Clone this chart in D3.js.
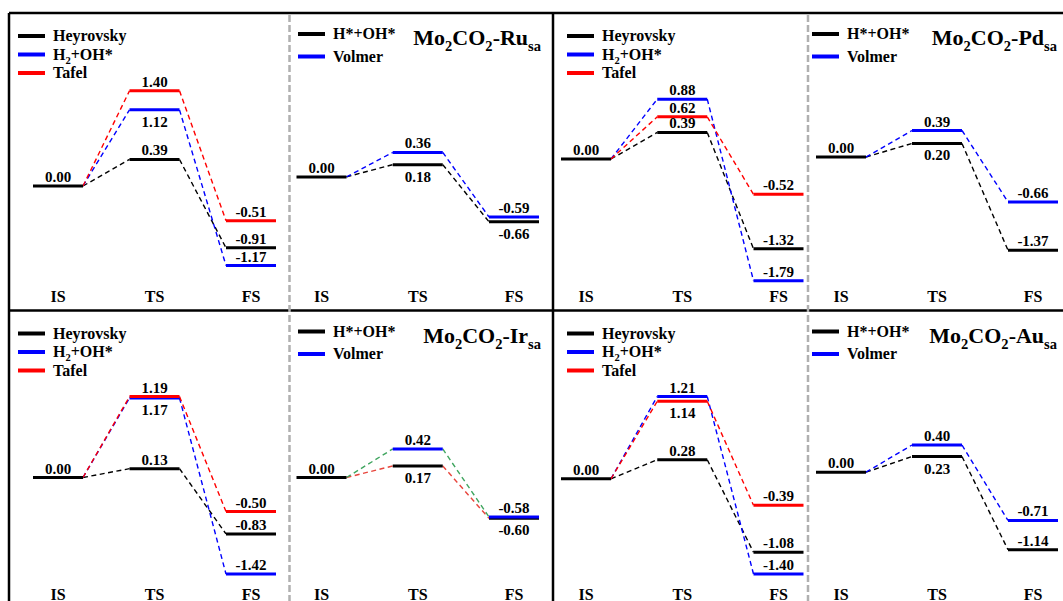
<!DOCTYPE html>
<meta charset="utf-8">
<script src="https://d3js.org/d3.v7.min.js"></script>
<body style="margin:0;background:#fff">
    <div id="data_vis"></div>
</body>
<script>
    // reaction steps on the x axis
    const steps = ["IS", "TS", "FS"];

    // legend entries (_{..} = subscript)
    const tafelLegend = ["Heyrovsky", "H_{2}+OH*", "Tafel"];
    const volmerLegend = ["H*+OH*", "Volmer"];
    const metals = ["Ru", "Pd", "Ir", "Au"];

    // energies (eV) at IS, TS, FS
    const ruHeyrovsky = [0.00, 0.39, -0.91];
    const ruH2OH = [0.00, 1.12, -1.17];
    const ruTafel = [0.00, 1.40, -0.51];
    const ruHOH = [0.00, 0.18, -0.66];
    const ruVolmer = [0.00, 0.36, -0.59];

    const pdHeyrovsky = [0.00, 0.39, -1.32];
    const pdH2OH = [0.00, 0.88, -1.79];
    const pdTafel = [0.00, 0.62, -0.52];
    const pdHOH = [0.00, 0.20, -1.37];
    const pdVolmer = [0.00, 0.39, -0.66];

    const irHeyrovsky = [0.00, 0.13, -0.83];
    const irH2OH = [0.00, 1.17, -1.42];
    const irTafel = [0.00, 1.19, -0.50];
    const irHOH = [0.00, 0.17, -0.60];
    const irVolmer = [0.00, 0.42, -0.58];

    const auHeyrovsky = [0.00, 0.28, -1.08];
    const auH2OH = [0.00, 1.21, -1.40];
    const auTafel = [0.00, 1.14, -0.39];
    const auHOH = [0.00, 0.23, -1.14];
    const auVolmer = [0.00, 0.40, -0.71];

    // ---- layout / style ----
    const width = 1063, height = 601;
    const rowTop = [13, 310.5];
    const rowH = 297;
    const pxPerEv = 68;
    const colLeft = [9, 289, 553, 808];
    const colCenters = [[58, 251], [321.5, 514], [586, 778.5], [841, 1033]];
    const legendX = [18, 298, 567, 812];
    const titleEnd = [null, 541, null, 1057];
    const colors = ["#000000", "#0000ff", "#ff0000"];
    const barW = 50;

    const panels = [
        {row: 0, col: 0, yMax: 2.544, series: [ruHeyrovsky, ruH2OH, ruTafel], legend: tafelLegend, below: ["1-TS"]},
        {row: 0, col: 1, yMax: 2.41, series: [ruHOH, ruVolmer], legend: volmerLegend, title: metals[0], below: ["0-TS", "0-FS"]},
        {row: 0, col: 2, yMax: 2.147, series: [pdHeyrovsky, pdH2OH, pdTafel], legend: tafelLegend, below: []},
        {row: 0, col: 3, yMax: 2.118, series: [pdHOH, pdVolmer], legend: volmerLegend, title: metals[1], below: ["0-TS"]},
        {row: 1, col: 0, yMax: 2.456, series: [irHeyrovsky, irH2OH, irTafel], legend: tafelLegend, below: ["1-TS"]},
        {row: 1, col: 1, yMax: 2.456, series: [irHOH, irVolmer], legend: volmerLegend, title: metals[2], below: ["0-TS", "0-FS"],
            links: ["#e8453c", "#3fa55f"]},
        {row: 1, col: 2, yMax: 2.475, series: [auHeyrovsky, auH2OH, auTafel], legend: tafelLegend, below: ["2-TS"]},
        {row: 1, col: 3, yMax: 2.378, series: [auHOH, auVolmer], legend: volmerLegend, title: metals[3], below: ["0-TS"]}
    ];

    const svg = d3.select("#data_vis")
        .append("svg")
        .attr("width", width)
        .attr("height", height)
        .style("font-family", "'Liberation Serif', 'Times New Roman', serif")
        .style("font-weight", "bold");

    // write text with _{..} subscripts as tspans
    function richText(sel, str, size) {
        const parts = str.split(/_\{([^}]*)\}/);
        let shifted = false;
        parts.forEach((p, i) => {
            if (p === "") return;
            const t = sel.append("tspan").text(p);
            if (i % 2 === 1) {
                t.attr("font-size", size * 0.66).attr("dy", shifted ? 0 : size * 0.28);
                shifted = true;
            } else {
                t.attr("dy", shifted ? -size * 0.28 : 0);
                shifted = false;
            }
        });
    }

    // frame
    const frame = svg.append("g");
    frame.append("line").attr("x1", 9).attr("x2", width + 5).attr("y1", 13).attr("y2", 13);
    frame.append("line").attr("x1", 9).attr("x2", 9).attr("y1", 13).attr("y2", height + 5);
    frame.append("line").attr("x1", 9).attr("x2", width + 5).attr("y1", 310.5).attr("y2", 310.5);
    frame.append("line").attr("x1", 553).attr("x2", 553).attr("y1", 13).attr("y2", height + 5);
    frame.selectAll("line").attr("stroke", "#000").attr("stroke-width", 2.5);

    svg.selectAll(".sep")
        .data([289.5, 808])
        .join("line")
        .attr("class", "sep")
        .attr("x1", d => d).attr("x2", d => d)
        .attr("y1", 15).attr("y2", height + 5)
        .attr("stroke", "#b0b0b0")
        .attr("stroke-width", 2.5)
        .attr("stroke-dasharray", "7,3");

    panels.forEach(p => {
        const top = rowTop[p.row];
        const g = svg.append("g");

        const x = d3.scalePoint().domain(steps).range(colCenters[p.col]);
        const y = d3.scaleLinear()
            .domain([p.yMax - rowH / pxPerEv, p.yMax])
            .range([top + rowH, top]);

        const series = p.series.map((vals, s) => ({
            s: s,
            color: colors[s],
            link: p.links ? p.links[s] : colors[s],
            levels: steps.map((st, i) => ({step: st, v: vals[i]}))
        }));

        // dashed connectors
        series.forEach(d => {
            for (let i = 0; i < 2; i++) {
                const a = d.levels[i], b = d.levels[i + 1];
                g.append("line")
                    .attr("x1", x(a.step) + barW / 2).attr("y1", y(a.v))
                    .attr("x2", x(b.step) - barW / 2).attr("y2", y(b.v))
                    .attr("stroke", d.link)
                    .attr("stroke-width", 1.4)
                    .attr("stroke-dasharray", "5,3.5");
            }
        });

        // energy levels
        series.forEach(d => {
            g.selectAll(null)
                .data(d.s === 0 ? d.levels : d.levels.slice(1))
                .join("line")
                .attr("x1", e => x(e.step) - barW / 2)
                .attr("x2", e => x(e.step) + barW / 2)
                .attr("y1", e => y(e.v))
                .attr("y2", e => y(e.v))
                .attr("stroke", d.color)
                .attr("stroke-width", 3);
        });

        // value labels
        series.forEach(d => {
            g.selectAll(null)
                .data(d.s === 0 ? d.levels : d.levels.slice(1))
                .join("text")
                .attr("x", e => x(e.step))
                .attr("y", e => p.below.includes(d.s + "-" + e.step) ? y(e.v) + 17 : y(e.v) - 4)
                .attr("text-anchor", "middle")
                .attr("font-size", 15)
                .text(e => e.v.toFixed(2));
        });

        // step labels
        g.selectAll(null)
            .data(steps)
            .join("text")
            .attr("x", d => x(d))
            .attr("y", top + 289)
            .attr("text-anchor", "middle")
            .attr("font-size", 16)
            .text(d => d);

        // legend
        const n = p.legend.length;
        const gap = n === 3 ? 18.5 : 22.5;
        const ly0 = top + (n === 3 ? 23 : 21);
        p.legend.forEach((name, i) => {
            const ly = ly0 + i * gap;
            g.append("line")
                .attr("x1", legendX[p.col]).attr("x2", legendX[p.col] + 27)
                .attr("y1", ly).attr("y2", ly)
                .attr("stroke", colors[i])
                .attr("stroke-width", 4);
            const t = g.append("text")
                .attr("x", legendX[p.col] + 35)
                .attr("y", ly + 5)
                .attr("font-size", 16);
            richText(t, name, 16);
        });

        // title
        if (p.title) {
            const t = g.append("text")
                .attr("x", titleEnd[p.col])
                .attr("y", top + 32)
                .attr("text-anchor", "end")
                .attr("font-size", 22);
            richText(t, "Mo_{2}CO_{2}-" + p.title + "_{sa}", 22);
        }
    });
</script>
